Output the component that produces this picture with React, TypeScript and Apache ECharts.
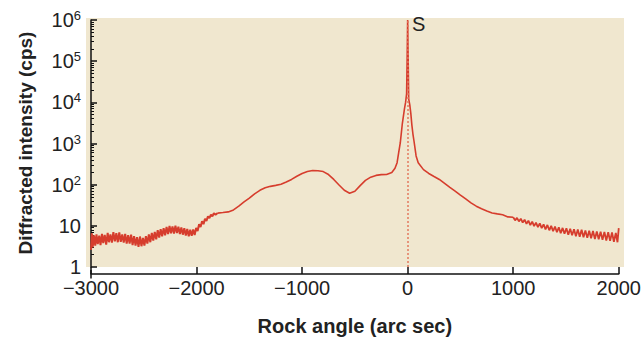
import React, { useEffect, useRef } from "react";
import * as echarts from "echarts";

// Rock angle (arc sec) vs diffracted intensity (cps)
const leftNoisy: [number, number][] = [
  [-3000, 2.6], [-2992, 6.6], [-2984, 3.0], [-2972, 5.9], [-2960, 3.3], [-2948, 6.2], [-2936, 3.6],
  [-2922, 5.8], [-2910, 3.4], [-2896, 6.4], [-2884, 3.8], [-2870, 6.0], [-2856, 3.5], [-2842, 6.7],
  [-2830, 4.0], [-2816, 6.2], [-2802, 3.9], [-2788, 7.0], [-2774, 4.2], [-2760, 6.6], [-2746, 4.0],
  [-2732, 6.9], [-2718, 4.1], [-2704, 6.2], [-2690, 3.9], [-2676, 6.4], [-2662, 3.7], [-2648, 5.9],
  [-2634, 3.7], [-2620, 6.1], [-2606, 3.4], [-2592, 5.6], [-2578, 3.3], [-2564, 5.3], [-2550, 3.1],
  [-2536, 5.5], [-2522, 3.2], [-2508, 5.1], [-2494, 3.3], [-2480, 5.6], [-2466, 3.7], [-2452, 6.2],
  [-2438, 4.0], [-2424, 6.7], [-2410, 4.4], [-2396, 7.1], [-2382, 4.7], [-2368, 7.8], [-2354, 5.2],
  [-2340, 8.3], [-2326, 5.6], [-2312, 8.8], [-2298, 5.9], [-2284, 9.4], [-2270, 6.3], [-2256, 9.9],
  [-2242, 6.6], [-2228, 9.7], [-2214, 6.5], [-2200, 10.1], [-2186, 6.7], [-2172, 9.5], [-2158, 6.3],
  [-2144, 9.1], [-2130, 6.1], [-2116, 8.8], [-2102, 5.8], [-2088, 8.4], [-2074, 5.6], [-2060, 8.0],
  [-2046, 5.7], [-2032, 8.2], [-2018, 6.0], [-2004, 8.9], [-1990, 7.5], [-1976, 10.9], [-1962, 9.3],
  [-1948, 13.0], [-1934, 11.0], [-1920, 14.8], [-1906, 13.2], [-1892, 17.1], [-1878, 15.3],
  [-1864, 18.8], [-1850, 17.0], [-1836, 20.2], [-1820, 18.6], [-1800, 20.4],
];

const middleSmooth: [number, number][] = [
  [-1750, 21], [-1700, 21.8], [-1650, 24.4], [-1600, 30], [-1550, 38], [-1500, 47], [-1450, 60],
  [-1400, 73], [-1350, 84], [-1300, 91], [-1250, 96], [-1200, 102], [-1150, 116], [-1100, 134],
  [-1050, 160], [-1000, 187], [-950, 208], [-900, 220], [-850, 218], [-800, 208], [-750, 176],
  [-700, 134], [-650, 98], [-600, 73], [-550, 62], [-500, 69], [-450, 95], [-400, 127], [-350, 152],
  [-300, 168], [-250, 175], [-200, 177], [-150, 197], [-120, 250], [-100, 342], [-85, 600],
  [-70, 1030], [-50, 3100], [-30, 7000], [-20, 9800], [-10, 16000], [-5, 110000], [0, 1000000],
  [5, 110000], [10, 12000], [20, 8800], [30, 5400], [40, 2800], [50, 1700], [60, 1150], [80, 500],
  [100, 342], [150, 232], [200, 187], [250, 158], [300, 134], [350, 108], [400, 86], [450, 70],
  [500, 56], [550, 45], [600, 36], [650, 30], [700, 26], [750, 23], [800, 20.6], [850, 19.5],
  [900, 18.5], [950, 16.5],
];

const rightNoisy: [number, number][] = [
  [1000, 16.2], [1018, 13.6], [1036, 15.6], [1054, 12.8], [1072, 14.9], [1090, 12.0], [1108, 14.1],
  [1126, 11.2], [1144, 13.4], [1162, 10.4], [1180, 12.7], [1198, 9.8], [1216, 12.0], [1234, 9.3],
  [1252, 11.5], [1270, 8.8], [1288, 10.9], [1306, 8.2], [1324, 10.5], [1342, 7.8], [1360, 10.0],
  [1378, 7.4], [1396, 9.6], [1414, 7.0], [1432, 9.2], [1450, 6.6], [1468, 8.9], [1486, 6.4],
  [1504, 8.7], [1522, 6.1], [1540, 8.5], [1558, 5.9], [1576, 8.3], [1594, 5.6], [1612, 8.1],
  [1630, 5.4], [1648, 8.0], [1666, 5.3], [1684, 7.7], [1702, 5.1], [1720, 7.6], [1738, 5.0],
  [1756, 7.5], [1774, 4.8], [1792, 7.3], [1810, 4.7], [1828, 7.2], [1846, 4.6], [1864, 7.1],
  [1882, 4.4], [1900, 7.0], [1918, 4.3], [1936, 6.9], [1954, 4.1], [1972, 6.7], [1988, 4.0],
  [2000, 8.8],
];

const xTicks = { min: -3000, max: 2000, interval: 1000 };
const yRange = { min: 1, max: 1000000 };
const peakLabel = "S";
const xTitle = "Rock angle (arc sec)";
const yTitle = "Diffracted intensity (cps)";

const FONT = "'Liberation Sans', Arial, sans-serif";
const RED = "#d63d2d";

export default function App() {
  const ref = useRef<HTMLDivElement>(null);

  useEffect(() => {
    if (!ref.current) return;
    const chart = echarts.init(ref.current, undefined, { renderer: "svg" });
    const mid = [leftNoisy[leftNoisy.length - 1], ...middleSmooth, rightNoisy[0]];
    chart.setOption({
      animation: false,
      backgroundColor: "#ffffff",
      grid: { left: 91, right: 22, top: 20, bottom: 70, containLabel: false },
      graphic: [
        {
          type: "rect",
          z: -10,
          silent: true,
          shape: { x: 86, y: 18, width: 538, height: 249 },
          style: { fill: "#f0e7cf" },
        },
        {
          type: "line",
          z: 10,
          silent: true,
          shape: { x1: 91, y1: 270, x2: 91, y2: 278.5 },
          style: { stroke: "#111", lineWidth: 1.5 },
        },
        {
          type: "text",
          z: 10,
          x: 412,
          y: 24,
          style: {
            text: peakLabel,
            font: `20px ${FONT}`,
            fill: "#222",
            verticalAlign: "middle",
            align: "left",
          },
        },
        {
          type: "text",
          z: 10,
          x: 25,
          y: 143,
          rotation: Math.PI / 2,
          style: {
            text: yTitle,
            font: `bold 19px ${FONT}`,
            fill: "#222",
            align: "center",
            verticalAlign: "middle",
          },
        },
      ],
      xAxis: {
        type: "value",
        min: xTicks.min,
        max: xTicks.max,
        interval: xTicks.interval,
        offset: 7,
        name: xTitle,
        nameLocation: "middle",
        nameGap: 42,
        nameTextStyle: { fontFamily: FONT, fontWeight: "bold", fontSize: 20, color: "#222" },
        axisLine: { show: true, onZero: false, lineStyle: { color: "#111", width: 1.5 } },
        axisTick: { show: true, inside: true, length: 7, lineStyle: { color: "#111", width: 1.5 } },
        axisLabel: {
          margin: 4,
          fontFamily: FONT,
          fontSize: 20,
          color: "#222",
          formatter: (v: number) => String(v).replace("-", "\u2212"),
        },
        splitLine: { show: false },
      },
      yAxis: {
        type: "log",
        logBase: 10,
        min: yRange.min,
        max: yRange.max,
        axisLine: { show: true, onZero: false, lineStyle: { color: "#111", width: 1.5 } },
        axisTick: { show: true, inside: true, length: 6, lineStyle: { color: "#111", width: 1.5 } },
        minorTick: { show: true, splitNumber: 9, length: 3, lineStyle: { color: "#111", width: 1 } },
        axisLabel: {
          margin: 10,
          fontFamily: FONT,
          fontSize: 20,
          color: "#222",
          formatter: (v: number) => {
            const e = Math.round(Math.log10(v));
            if (e === 0) return "1";
            if (e === 1) return "10";
            return `10{s|${e}}`;
          },
          rich: {
            s: { fontSize: 13, fontFamily: FONT, color: "#222", verticalAlign: "top", padding: [0, 0, 9, 0] },
          },
        },
        splitLine: { show: false },
        minorSplitLine: { show: false },
      },
      series: [
        {
          type: "line",
          data: leftNoisy,
          showSymbol: false,
          symbol: "none",
          lineStyle: { color: RED, width: 2.0 },
          z: 3,
        },
        {
          type: "line",
          data: mid,
          showSymbol: false,
          symbol: "none",
          lineStyle: { color: RED, width: 1.6 },
          z: 3,
          markLine: {
            silent: true,
            symbol: ["none", "none"],
            label: { show: false },
            lineStyle: { type: [2, 2], color: "#e27a60", width: 1.5 },
            data: [{ xAxis: 0 }],
          },
        },
        {
          type: "line",
          data: rightNoisy,
          showSymbol: false,
          symbol: "none",
          lineStyle: { color: RED, width: 1.8 },
          z: 3,
        },
      ],
    });
    return () => chart.dispose();
  }, []);

  return (
    <div
      ref={ref}
      style={{ position: "fixed", left: 0, top: 0, width: 644, height: 341 }}
    />
  );
}
